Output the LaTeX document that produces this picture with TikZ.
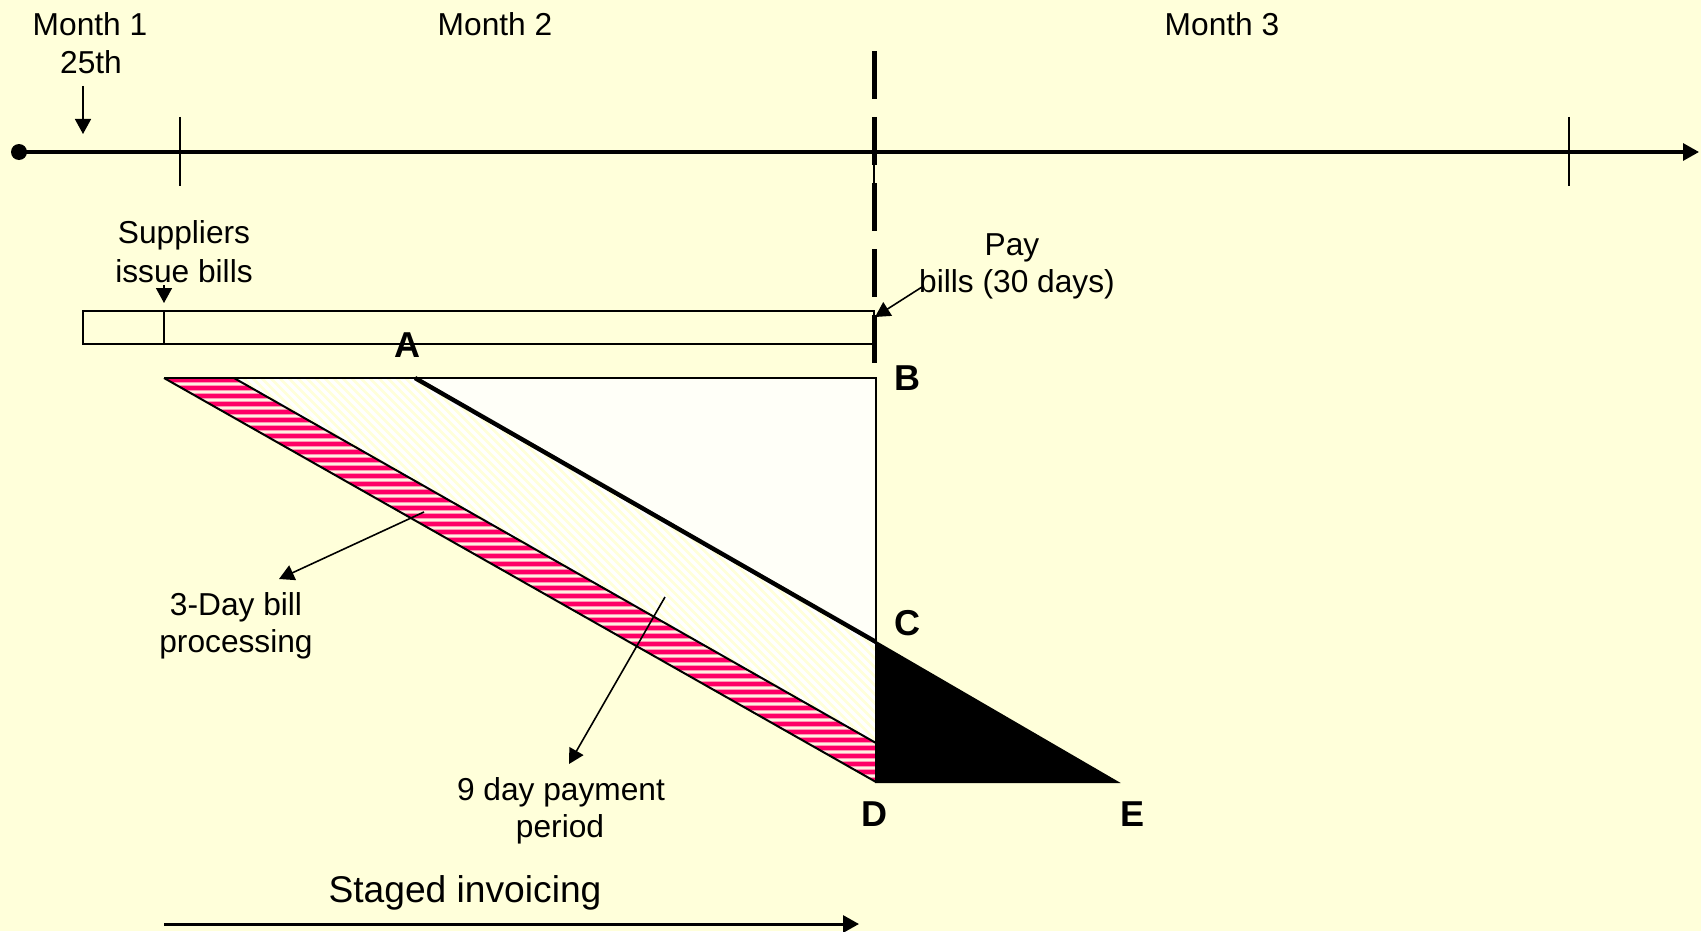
\documentclass[tikz,border=0pt]{standalone}
\usepackage{fontspec}
\setmainfont{Liberation Sans}
\usetikzlibrary{arrows.meta}
\definecolor{bg}{RGB}{255,255,218}
\definecolor{hotpink}{RGB}{255,0,102}
\definecolor{palepink}{RGB}{255,150,180}
\definecolor{cream}{RGB}{255,240,225}
\definecolor{offwhite}{RGB}{255,255,248}
\begin{document}
\begin{tikzpicture}[x=0.5pt,y=-0.5pt,
  lbl/.style={font=\fontsize{15.85pt}{19pt}\selectfont, inner sep=0pt, anchor=base},
  big/.style={font=\fontsize{18.6pt}{22pt}\selectfont, inner sep=0pt, anchor=base},
  ptlbl/.style={font=\bfseries\fontsize{18pt}{21pt}\selectfont, inner sep=0pt, anchor=base},
  arr/.style={line width=0.8pt, -{Triangle[length=7.5pt,width=8pt]}},
  thinline/.style={line width=1pt},
  tickline/.style={line width=0.9pt}]
\useasboundingbox (0,0) rectangle (1701,931);
\fill[bg] (0,0) rectangle (1701,931);

% key coordinates
\coordinate (P1) at (164,378);
\coordinate (P2) at (234,378);
\coordinate (P3) at (415,378);
\coordinate (TR) at (876,378);
\coordinate (C) at (876,642);
\coordinate (PU) at (876,743);
\coordinate (D) at (876,782);
\coordinate (E) at (1117,782);

% white region
\fill[offwhite] (P3) -- (TR) -- (C) -- cycle;

% hatched region
\begin{scope}
  \clip (P2) -- (P3) -- (C) -- (PU) -- cycle;
  \foreach \x in {-300,-291,...,900} {
    \draw[white, line width=1.6pt] (\x,370) -- ++(420,420);
  }
\end{scope}

% pink striped band
\begin{scope}
  \clip (P1) -- (P2) -- (PU) -- (D) -- cycle;
  \fill[cream] (150,370) rectangle (890,790);
  \foreach \y in {380,388,...,790} {
    \draw[palepink, line width=3pt] (150,\y) -- (890,\y);
    \draw[hotpink, line width=1.9pt] (150,\y) -- (890,\y);
  }
\end{scope}

% outlines
\draw[thinline] (P1) -- (TR) -- (D);
\draw[thinline] (P1) -- (D);
\draw[thinline] (P2) -- (PU);
\draw[line width=2.2pt] (P3) -- (C);
\fill[black] (C) -- (D) -- (E) -- cycle;
\draw[thinline, line join=miter] (C) -- (D) -- (E) -- cycle;

% timeline
\coordinate (start) at (19,152);
\coordinate (end) at (1699,152);
\fill (start) circle (4pt);
\draw[line width=1.6pt, -{Triangle[length=8pt,width=8.5pt]}] (start) -- (end);
\coordinate (t1a) at (180,117); \coordinate (t1b) at (180,186);
\coordinate (t2a) at (874,117); \coordinate (t2b) at (874,186);
\coordinate (t3a) at (1569,117); \coordinate (t3b) at (1569,186);
\draw[tickline] (t1a) -- (t1b);
\draw[tickline] (t2a) -- (t2b);
\draw[tickline] (t3a) -- (t3b);

% bill bar
\coordinate (bx1) at (83,311);
\coordinate (bx2) at (874,344);
\coordinate (dv1) at (164,311);
\coordinate (dv2) at (164,344);
\draw[thinline] (bx1) rectangle (bx2);
\draw[thinline] (dv1) -- (dv2);

% dashed month boundary
\coordinate (da) at (874,51);
\coordinate (db) at (874,363);
\draw[line width=2.5pt, dash pattern=on 24pt off 9pt] (da) -- (db);

% labels
\node[lbl] (m1) at (90,36) {Month 1};
\node[lbl] (d25) at (91,74) {25th};
\node[lbl] (m2) at (495,36) {Month 2};
\node[lbl] (m3) at (1222,36) {Month 3};
\coordinate (a25s) at (83,86);
\coordinate (a25e) at (83,134);
\draw[arr] (a25s) -- (a25e);

\node[lbl] (sup1) at (184,243) {Suppliers};
\node[lbl] (sup2) at (184,282) {issue bills};
\coordinate (sups) at (164,285);
\coordinate (supe) at (164,303);
\draw[arr] (sups) -- (supe);

\node[lbl] (pay1) at (1012,255) {Pay};
\node[lbl] (pay2) at (1017,292) {bills (30 days)};
\coordinate (pays) at (922,287);
\coordinate (paye) at (875,317);
\draw[arr] (pays) -- (paye);

\node[ptlbl] (lA) at (407.5,357) {A};
\node[ptlbl] (lB) at (907.5,390) {B};
\node[ptlbl] (lC) at (907,635) {C};
\node[ptlbl] (lD) at (874,826) {D};
\node[ptlbl] (lE) at (1132,826) {E};

\node[lbl] (p1) at (236,615) {3-Day bill};
\node[lbl] (p2) at (236,652) {processing};
\coordinate (p3s) at (424,512);
\coordinate (p3e) at (279,579);
\draw[arr] (p3s) -- (p3e);

\node[lbl] (n1) at (561,800) {9 day payment};
\node[lbl] (n2) at (560,837) {period};
\coordinate (n9s) at (665,597);
\coordinate (n9e) at (569,764);
\draw[arr] (n9s) -- (n9e);

\node[big] (stg) at (465,902) {Staged invoicing};
\coordinate (sts) at (164,924);
\coordinate (ste) at (859,924);
\draw[line width=1.5pt, -{Triangle[length=8pt,width=8.5pt]}] (sts) -- (ste);
\end{tikzpicture}
\end{document}
